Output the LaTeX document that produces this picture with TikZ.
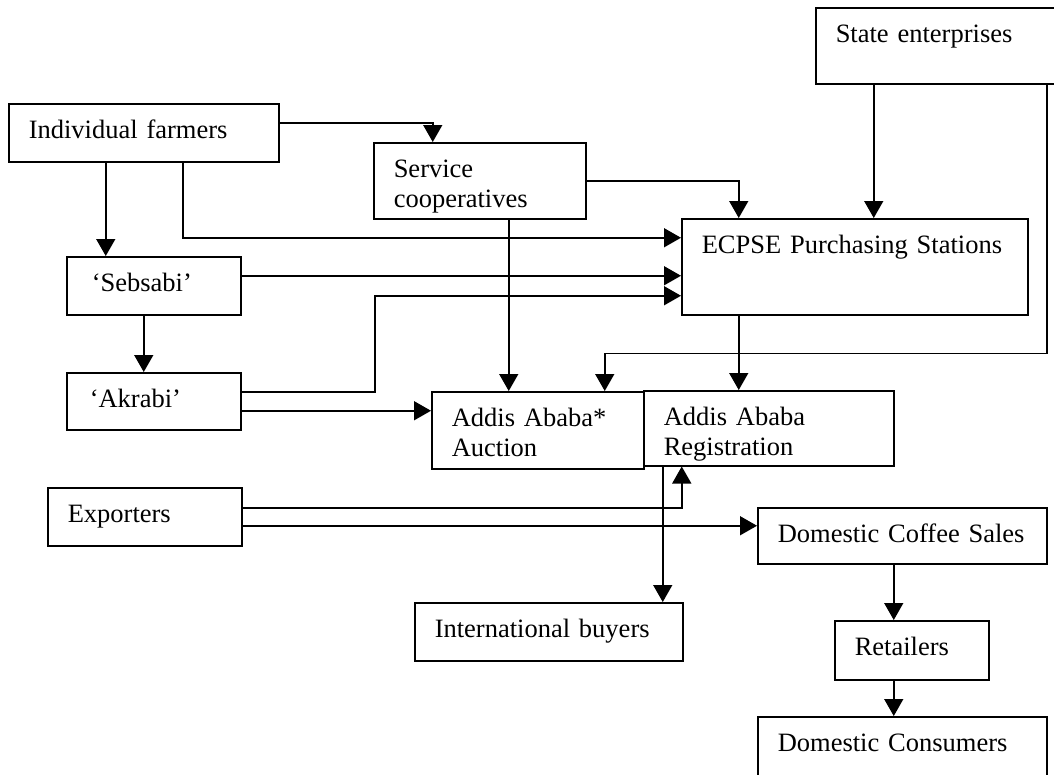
\documentclass[tikz,border=0pt]{standalone}
\usepackage{fontspec}
\setmainfont{Liberation Serif}
\usetikzlibrary{arrows.meta}

\begin{document}
\begin{tikzpicture}[x=1pt,y=-1pt,line width=1.5pt,font=\fontsize{26.5pt}{30pt}\selectfont,
	box/.style 2 args={draw, anchor=north west, align=left, inner xsep=20pt, inner ysep=0pt, text width=#1pt-40pt, text height=35pt, text depth=#2pt-35pt},
	arr/.style={-{Triangle[length=17pt,width=19pt]}}]
		\useasboundingbox (0,0) rectangle (1054,774);
		% Producers and collectors
		\node [box={240}{76}] at (815,7) (state) {State enterprises};
		\node [box={270}{58}] at (8,103) (farmers) {Individual farmers};
		\node [box={212}{76}] at (373,142) (servicecoop) {Service\\cooperatives};
		\node [box={346}{96}] at (681,218) (ecpse) {ECPSE Purchasing Stations};
		\node [box={174}{58}] at (66,256) (sebsabi) {\hspace*{5pt}‘Sebsabi’};
		\node [box={174}{57}] at (66,372) (akrabi) {\hspace*{3pt}‘Akrabi’};
		
		% Addis Ababa
		\node [box={212}{77}] at (431,391) (auction) {Addis Ababa*\\Auction};
		\node [box={250}{75}] at (643,390) (registration) {Addis Ababa\\Registration};
		
		% Exporters and buyers
		\node [box={194}{58}] at (47,487) (exporters) {Exporters};
		\node [box={289}{56}] at (757,507) (domsales) {Domestic Coffee Sales};
		\node [box={268}{58}] at (414,602) (intlbuyers) {International buyers};
		\node [box={154}{59}] at (834,620) (retailers) {Retailers};
		\node [box={289}{62}] at (757,716) (consumers) {Domestic Consumers};
		
		% Connections to the purchasing stations
		\draw [arr] ([yshift=10pt]farmers.east) -| ([xshift=-47pt]servicecoop.north);
		\draw [arr] ([xshift=-38pt]farmers.south) -- ([xshift=-38pt]farmers.south |- sebsabi.north);
		\draw [arr] ([xshift=39pt]farmers.south) |- ([yshift=29pt]ecpse.west);
		\draw [arr] ([xshift=-10pt]sebsabi.south) -- ([xshift=-10pt]sebsabi.south |- akrabi.north);
		\draw [arr] ([yshift=10pt]sebsabi.east) -- ([yshift=10pt]sebsabi.east -| ecpse.west);
		\draw [arr] ([yshift=9.5pt]akrabi.east) -- ++(133.5,0) |- ([yshift=-29pt]ecpse.west);
		\draw [arr] (servicecoop.east) -| ([xshift=-116pt]ecpse.north);
		\draw [arr] ([xshift=-62pt]state.south) -- ([xshift=-62pt]state.south |- ecpse.north);
		
		% Connections to Addis Ababa
		\draw [arr] ([yshift=-9.5pt]akrabi.east) -- ([yshift=-9.5pt]akrabi.east -| auction.west);
		\draw [arr] ([xshift=29pt]servicecoop.south) -- ([xshift=29pt]servicecoop.south |- auction.north);
		\draw [arr] ([xshift=111pt]state.south) -- ++(0,269) -| ([xshift=67pt]auction.north);
		\draw [arr] ([xshift=-116pt]ecpse.south) -- ([xshift=-116pt]ecpse.south |- registration.north);
		\draw [arr] ([yshift=9pt]exporters.east) -| ([xshift=-87pt]registration.south);
		\draw [arr] ([xshift=-106pt]registration.south) -- ([xshift=-106pt]registration.south |- intlbuyers.north);
		
		% Domestic market
		\draw [arr] ([yshift=-9pt]exporters.east) -- ([yshift=-9pt]exporters.east -| domsales.west);
		\draw [arr] ([xshift=-8.5pt]domsales.south) -- ([xshift=-8.5pt]domsales.south |- retailers.north);
		\draw [arr] ([xshift=-18pt]retailers.south) -- ([xshift=-18pt]retailers.south |- consumers.north);
\end{tikzpicture}
\end{document}
